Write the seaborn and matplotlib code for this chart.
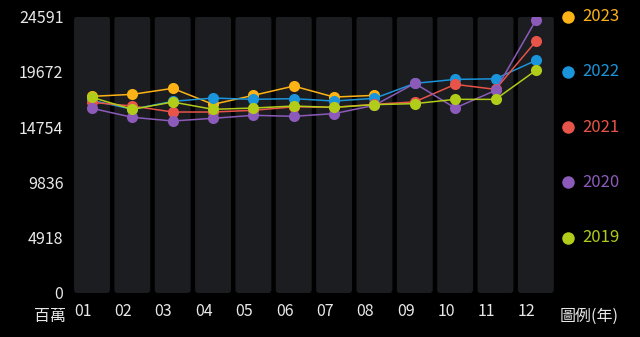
import matplotlib
matplotlib.use("Agg")
import matplotlib.pyplot as plt
import matplotlib.transforms as mtransforms
from matplotlib.patches import FancyBboxPatch
import numpy as np
import pandas as pd
import seaborn as sns

# Monthly values (millions), one list per year
months = ["01", "02", "03", "04", "05", "06", "07", "08", "09", "10", "11", "12"]
y2023 = [17490, 17667, 18200, 16779, 17578, 18404, 17427, 17578]
y2022 = [17135, 16336, 17046, 17339, 17223, 17285, 17072, 17312, 18644, 18999, 19050, 20686]
y2021 = [16957, 16629, 16096, 16096, 16247, 16558, 16513, 16779, 17000, 18555, 18111, 22373]
y2020 = [16424, 15625, 15297, 15537, 15803, 15714, 15954, 16691, 18644, 16451, 18022, 24250]
y2019 = [17401, 16336, 16984, 16336, 16451, 16629, 16513, 16753, 16842, 17223, 17223, 19798]

years = ["2023", "2022", "2021", "2020", "2019"]
series = [y2023, y2022, y2021, y2020, y2019]
colors = ["#FDB316", "#1A94DA", "#E8534A", "#8C5BBA", "#B2CC1A"]
y_max = 24591
y_ticks = [0, 4918, 9836, 14754, 19672, 24591]

rows = []
for yr, vals in zip(years, series):
    for i, v in enumerate(vals):
        rows.append({"year": yr, "month": i, "value": v})
df = pd.DataFrame(rows)

sns.set_theme(style="dark")
plt.rcParams["font.family"] = ["Noto Sans CJK TC", "DejaVu Sans"]

BG = "#000000"
COL = "#1B1D20"
TXT = "#E8E8E8"

fig = plt.figure(figsize=(6.4, 3.37), dpi=100, facecolor=BG)
ax = fig.add_axes([0.1122, 0.1306, 0.7566, 0.8204])
ax.set_facecolor(BG)

ax.set_xlim(-0.5, len(months) - 0.5)
ax.set_ylim(0, y_max)

# Rounded background columns, one per month
w = 0.89
px_x = 1 / 40.36
px_y = y_max / 277.0
for i in range(len(months)):
    p = FancyBboxPatch((i - w / 2, 0), w, y_max,
                       boxstyle="round,pad=0,rounding_size=%f" % (3 * px_x),
                       mutation_aspect=px_y / px_x,
                       facecolor=COL, edgecolor="none", zorder=0.5)
    ax.add_patch(p)

sns.lineplot(data=df, x="month", y="value", hue="year", hue_order=years,
             palette=dict(zip(years, colors)), marker="o", markersize=8,
             markeredgewidth=0, linewidth=1.1, legend=False, ax=ax, zorder=3)

for s in ax.spines.values():
    s.set_visible(False)
ax.grid(False)

ax.set_yticks(y_ticks)
ax.set_yticklabels([str(t) for t in y_ticks], color=TXT, fontsize=11.5)
ax.set_xticks(np.arange(len(months)) - w / 2)
ax.set_xticklabels(months, color=TXT, fontsize=11.5, ha="left")
ax.tick_params(axis="both", length=0, pad=6)
ax.tick_params(axis="x", pad=7)
ax.set_xlabel("")
ax.set_ylabel("")

# Unit and legend captions along the bottom row
fig.text(50 / 640, 1 - 316 / 337, "百萬", color=TXT, fontsize=11.5,
         ha="center", va="center")
fig.text(589 / 640, 1 - 316 / 337, "圖例(年)", color=TXT, fontsize=11.5,
         ha="center", va="center")

# Legend entries aligned with the upper y ticks
trans = mtransforms.blended_transform_factory(ax.transAxes, ax.transData)
for yr, c, t in zip(years, colors, y_ticks[::-1][:5]):
    ax.plot([1.0244], [t], "o", color=c, markersize=9, markeredgewidth=0,
            transform=trans, clip_on=False)
    ax.text(1.0533, t, yr, color=c, fontsize=12, ha="left", va="center",
            transform=trans, clip_on=False)

fig.savefig("out.png", dpi=100, facecolor=BG)
